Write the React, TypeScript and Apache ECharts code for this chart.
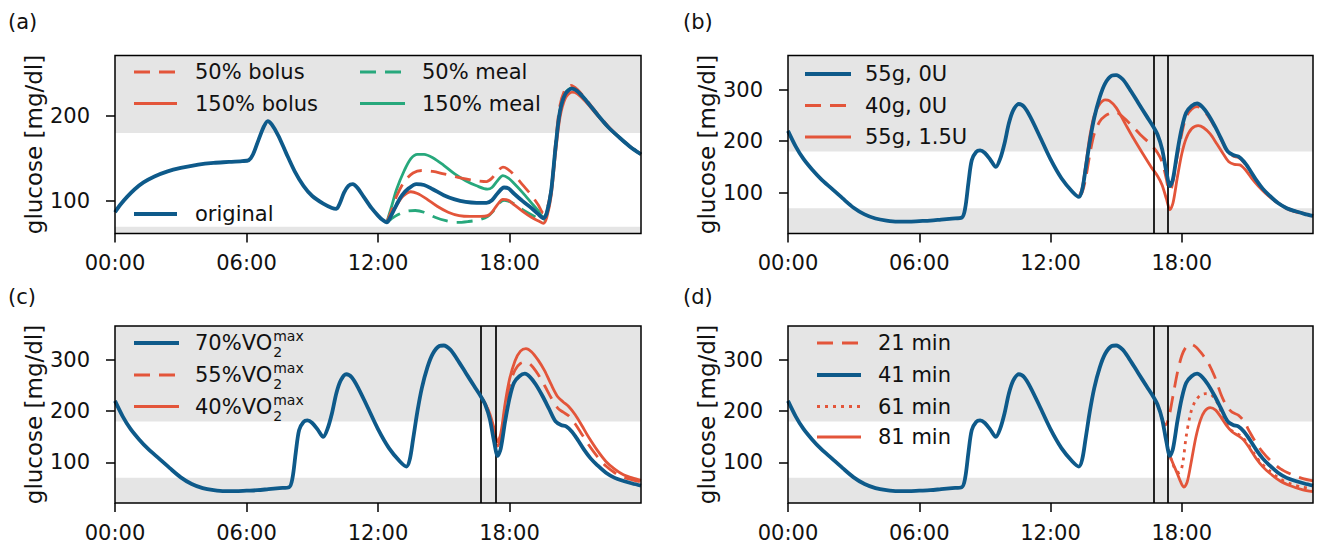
import React, { useEffect, useRef } from 'react';
import * as echarts from 'echarts';

const W = 1319;
const H = 550;
const FONT = 'DejaVu Sans';
const BLUE = '#0e5a8a';
const RED = '#e3553a';
const GREEN = '#27a87c';
const BAND = '#e5e5e5';
const TXT = '#111';

// ---------- axes / reference values ----------
const X_TICKS = [0, 6, 12, 18];
const Y_TICKS_A = [100, 200];
const Y_TICKS_BCD = [100, 200, 300];
const Y_RANGE_A = [62, 271];
const Y_RANGE_BCD = [21, 366];
const HYPO = 70;
const HYPER = 180;
const EXERCISE = [16.7, 17.38];
const PANEL_LABELS = ['(a)', '(b)', '(c)', '(d)'];

// ---------- panel (a) ----------
const aOriginal = [[0,87],[0.25,96],[0.55,105],[0.9,114],[1.3,122],[1.8,129],[2.4,135],[3.0,139],[3.8,143],[4.5,145],[5.2,146],[5.8,147],[6.1,148],[6.3,155],[6.55,172],[6.8,188],[6.97,194],[7.15,190],[7.45,177],[7.8,157],[8.2,135],[8.6,118],[9.0,106],[9.5,97],[9.9,92],[10.1,91],[10.25,97],[10.45,110],[10.65,118],[10.85,120],[11.05,116],[11.35,105],[11.7,92],[12.0,83],[12.2,78],[12.4,75],[12.6,83],[12.85,96],[13.1,107],[13.4,115],[13.75,120],[14.1,119],[14.5,114],[15.0,107],[15.5,102],[16.0,99],[16.5,98],[16.95,98],[17.2,101],[17.45,109],[17.75,116],[17.95,115],[18.2,109],[18.6,100],[19.0,92],[19.3,85],[19.55,80],[19.7,86],[19.9,112],[20.1,163],[20.3,205],[20.55,226],[20.85,232],[21.1,229],[21.5,218],[22.0,202],[22.5,187],[23.0,175],[23.5,164],[24.0,155]];
const a50Bolus = [[12.4,75],[12.6,88],[12.85,106],[13.2,123],[13.6,133],[14.0,136],[14.5,135],[15.0,132],[15.5,129],[16.0,126],[16.5,124],[16.95,123],[17.2,127],[17.45,135],[17.7,140],[17.9,138],[18.2,131],[18.6,119],[19.0,107],[19.3,96],[19.55,86],[19.7,90],[19.9,114],[20.1,168],[20.3,212],[20.55,232],[20.8,236],[21.1,231],[21.5,219],[22.0,203],[22.5,188],[23.0,175],[23.5,164],[24.0,155]];
const a150Bolus = [[12.4,75],[12.6,84],[12.85,95],[13.15,106],[13.5,111],[13.8,109],[14.2,103],[14.7,94],[15.2,87],[15.7,83],[16.2,82],[16.7,82],[17.0,83],[17.2,87],[17.45,96],[17.7,102],[17.95,101],[18.2,96],[18.6,88],[19.0,81],[19.3,77],[19.55,74],[19.7,81],[19.9,106],[20.1,156],[20.3,198],[20.55,221],[20.85,228],[21.1,226],[21.5,216],[22.0,201],[22.5,187],[23.0,175],[23.5,164],[24.0,155]];
const a50Meal = [[12.4,75],[12.6,79],[12.9,84],[13.3,88],[13.7,89],[14.1,87],[14.6,81],[15.1,77],[15.6,75],[16.1,76],[16.6,78],[17.0,82],[17.25,88],[17.5,97],[17.75,101],[17.95,100],[18.2,97],[18.6,90],[19.0,84],[19.3,80],[19.55,77],[19.7,84],[19.9,110],[20.1,162],[20.3,205],[20.55,226],[20.85,232],[21.1,229],[21.5,218],[22.0,202],[22.5,187],[23.0,175],[23.5,164],[24.0,155]];
const a150Meal = [[12.4,75],[12.6,92],[12.85,114],[13.2,136],[13.5,150],[13.8,155],[14.1,155],[14.5,151],[15.0,142],[15.5,132],[16.0,124],[16.5,118],[17.0,114],[17.2,116],[17.45,124],[17.7,130],[17.95,127],[18.2,121],[18.6,110],[19.0,98],[19.3,89],[19.55,81],[19.7,87],[19.9,113],[20.1,164],[20.3,206],[20.55,227],[20.85,233],[21.1,229],[21.5,218],[22.0,202],[22.5,187],[23.0,175],[23.5,164],[24.0,155]];

// ---------- shared baseline for (b), (c), (d) ----------
const baseline = [[0,220],[0.35,190],[0.7,166],[1.1,145],[1.5,127],[2.0,108],[2.5,89],[3.0,71],[3.5,58],[4.0,50],[4.5,46],[5.0,44],[5.5,44],[6.0,45],[6.5,46],[7.0,48],[7.5,50],[7.95,52],[8.1,70],[8.25,120],[8.4,163],[8.6,179],[8.78,182],[9.0,177],[9.25,164],[9.5,150],[9.7,166],[9.9,196],[10.1,235],[10.3,260],[10.55,272],[10.8,266],[11.1,245],[11.5,210],[12.0,165],[12.5,128],[13.0,102],[13.3,92],[13.45,106],[13.6,145],[13.8,200],[14.0,245],[14.25,285],[14.5,312],[14.8,327],[15.0,328],[15.3,320],[15.6,302],[16.0,275],[16.4,248],[16.7,228],[16.9,212],[17.1,185],[17.3,140],[17.46,113],[17.6,127],[17.8,180],[18.0,225],[18.2,255],[18.45,268],[18.7,273],[18.95,266],[19.2,252],[19.5,230],[19.8,205],[20.1,180],[20.35,173],[20.6,170],[20.85,160],[21.1,145],[21.4,125],[21.7,108],[22.0,95],[22.4,80],[22.8,70],[23.2,64],[23.6,59],[24.0,55]];

// ---------- panel (b) ----------
const b40g0U = [[13.3,92],[13.45,101],[13.6,126],[13.8,175],[14.0,214],[14.25,238],[14.5,249],[14.8,255],[15.0,256],[15.3,247],[15.7,231],[16.1,213],[16.5,197],[16.7,188],[16.9,177],[17.1,160],[17.3,126],[17.42,104],[17.55,112],[17.75,160],[18.0,214],[18.2,247],[18.45,262],[18.7,267],[18.95,262],[19.2,249],[19.5,228],[19.8,203],[20.1,178],[20.35,171],[20.6,168],[20.85,158],[21.1,143],[21.4,124],[21.7,107],[22.0,94],[22.4,79],[22.8,69],[23.2,63],[23.6,58],[24.0,55]];
const b55g15U = [[13.3,92],[13.45,109],[13.6,150],[13.8,210],[14.0,250],[14.25,272],[14.5,280],[14.7,278],[15.0,265],[15.4,235],[15.8,205],[16.2,177],[16.6,150],[16.9,132],[17.1,115],[17.3,88],[17.46,67],[17.6,80],[17.8,130],[18.0,175],[18.2,205],[18.45,224],[18.75,230],[19.0,226],[19.3,214],[19.6,195],[19.9,175],[20.15,160],[20.4,155],[20.65,154],[20.9,145],[21.2,128],[21.5,113],[21.85,98],[22.2,86],[22.6,75],[23.0,67],[23.4,62],[23.8,57],[24.0,55]];

// ---------- panel (c) ----------
const c55 = [[16.7,228],[16.9,213],[17.1,192],[17.3,160],[17.45,132],[17.6,146],[17.8,205],[18.0,250],[18.25,280],[18.5,293],[18.75,296],[19.0,289],[19.3,272],[19.6,250],[19.9,226],[20.2,206],[20.45,198],[20.7,191],[21.0,175],[21.3,155],[21.6,135],[22.0,112],[22.4,93],[22.8,80],[23.2,71],[23.6,66],[24.0,62]];
const c40 = [[16.7,228],[16.9,214],[17.1,195],[17.3,166],[17.45,140],[17.6,156],[17.8,215],[18.0,262],[18.25,298],[18.5,317],[18.75,322],[19.0,316],[19.3,300],[19.6,279],[19.9,252],[20.2,228],[20.45,218],[20.7,209],[21.0,193],[21.3,172],[21.6,150],[22.0,124],[22.4,102],[22.8,87],[23.2,76],[23.6,70],[24.0,65]];

// ---------- panel (d) ----------
const d21 = [[17.05,192],[17.15,179],[17.25,173],[17.4,186],[17.6,230],[17.8,275],[18.0,308],[18.2,325],[18.42,330],[18.65,325],[18.9,313],[19.2,295],[19.5,268],[19.8,232],[20.05,210],[20.3,198],[20.6,192],[20.85,180],[21.1,160],[21.4,138],[21.7,120],[22.0,106],[22.5,88],[23.0,77],[23.5,69],[24.0,64]];
const d61 = [[17.38,125],[17.46,113],[17.6,96],[17.75,83],[17.9,80],[18.05,100],[18.2,150],[18.4,195],[18.6,218],[18.85,231],[19.1,234],[19.35,232],[19.6,218],[19.9,190],[20.2,165],[20.5,157],[20.75,150],[21.0,137],[21.3,118],[21.6,100],[22.0,84],[22.5,68],[23.0,58],[23.5,52],[24.0,49]];
const d81 = [[17.38,125],[17.46,113],[17.6,98],[17.8,78],[17.95,62],[18.1,52],[18.25,62],[18.45,105],[18.65,150],[18.85,182],[19.05,200],[19.3,207],[19.55,202],[19.8,188],[20.05,172],[20.3,160],[20.55,153],[20.8,145],[21.1,128],[21.4,108],[21.7,92],[22.0,80],[22.5,64],[23.0,54],[23.5,47],[24.0,43]];

// ---------- legends ----------
const LEG_A = ['50% bolus', '150% bolus', '50% meal', '150% meal', 'original'];
const LEG_B = ['55g, 0U', '40g, 0U', '55g, 1.5U'];
const LEG_C = ['70%', '55%', '40%'];
const LEG_D = ['21 min', '41 min', '61 min', '81 min'];

// ---------- layout ----------
const GRIDS = [
  { left: 115, top: 55.5, width: 526, height: 178 },
  { left: 788, top: 55.5, width: 525, height: 178 },
  { left: 115, top: 326, width: 526, height: 177 },
  { left: 788, top: 326, width: 525, height: 177 },
];
const LW_BLUE = 3.8;
const LW_OTHER = 2.8;
const DASH = [16, 9];
const DOT = [3, 5];

function measure(text: string, size: number) {
  const c = document.createElement('canvas').getContext('2d');
  if (!c) return text.length * size * 0.6;
  c.font = `${size}px "${FONT}"`;
  return c.measureText(text).width;
}

function series(data: number[][], gi: number, color: string, width: number, type: any, z: number) {
  return {
    type: 'line', xAxisIndex: gi, yAxisIndex: gi, data,
    showSymbol: false, symbol: 'none', smooth: 0.3, silent: true, z,
    lineStyle: { color, width, type, cap: 'butt', join: 'round' },
  };
}

export default function App() {
  const ref = useRef<HTMLDivElement>(null);
  useEffect(() => {
    document.body.style.margin = '0';
    if (!ref.current) return;
    const chart = echarts.init(ref.current, undefined, { renderer: 'svg' });

    const xAxis = GRIDS.map((_, i) => ({
      type: 'value', gridIndex: i, min: 0, max: 24,
      axisLine: { show: false }, splitLine: { show: false },
      axisTick: { show: true, length: 9, lineStyle: { color: '#000', width: 1.5 }, customValues: X_TICKS },
      axisLabel: {
        customValues: X_TICKS, margin: 19, color: TXT, fontFamily: FONT, fontSize: 21,
        formatter: (v: number) => `${String(v).padStart(2, '0')}:00`,
      },
    }));
    const yAxis = GRIDS.map((_, i) => {
      const r = i === 0 ? Y_RANGE_A : Y_RANGE_BCD;
      const t = i === 0 ? Y_TICKS_A : Y_TICKS_BCD;
      return {
        type: 'value', gridIndex: i, min: r[0], max: r[1],
        name: 'glucose [mg/dl]', nameLocation: 'middle', nameGap: 70, nameRotate: 90,
        nameTextStyle: { fontFamily: FONT, fontSize: 23, color: TXT },
        axisLine: { show: false }, splitLine: { show: false },
        axisTick: { show: true, length: 9, lineStyle: { color: '#000', width: 1.5 }, customValues: t },
        axisLabel: { customValues: t, margin: 25, color: TXT, fontFamily: FONT, fontSize: 21 },
      };
    });

    const bands = GRIDS.map((_, i) => {
      const r = i === 0 ? Y_RANGE_A : Y_RANGE_BCD;
      return {
        type: 'line', xAxisIndex: i, yAxisIndex: i, data: [], z: 1, silent: true,
        markArea: {
          silent: true, itemStyle: { color: BAND, opacity: 1 },
          data: [[{ yAxis: HYPER }, { yAxis: r[1] }], [{ yAxis: r[0] }, { yAxis: HYPO }]],
        },
      };
    });
    const vlines = [1, 2, 3].map((i) => ({
      type: 'line', xAxisIndex: i, yAxisIndex: i, data: [], z: 20, silent: true,
      markLine: {
        silent: true, symbol: ['none', 'none'], label: { show: false },
        lineStyle: { color: '#000', width: 1.7, type: 'solid' },
        emphasis: { disabled: true },
        data: EXERCISE.map((x) => ({ xAxis: x })),
      },
    }));

    const lines = [
      series(a50Meal, 0, GREEN, LW_OTHER, DASH, 3),
      series(a150Meal, 0, GREEN, LW_OTHER, 'solid', 3),
      series(a50Bolus, 0, RED, LW_OTHER, DASH, 4),
      series(a150Bolus, 0, RED, LW_OTHER, 'solid', 4),
      series(aOriginal, 0, BLUE, LW_BLUE, 'solid', 6),
      series(b40g0U, 1, RED, LW_OTHER, DASH, 4),
      series(b55g15U, 1, RED, LW_OTHER, 'solid', 4),
      series(baseline, 1, BLUE, LW_BLUE, 'solid', 6),
      series(c55, 2, RED, LW_OTHER, DASH, 4),
      series(c40, 2, RED, LW_OTHER, 'solid', 4),
      series(baseline, 2, BLUE, LW_BLUE, 'solid', 6),
      series(d21, 3, RED, LW_OTHER, DASH, 4),
      series(d61, 3, RED, LW_OTHER, DOT, 4),
      series(d81, 3, RED, LW_OTHER, 'solid', 4),
      series(baseline, 3, BLUE, LW_BLUE, 'solid', 6),
    ];

    const g: any[] = [];
    const font = (s: number) => `${s}px "${FONT}"`;
    const txt = (x: number, y: number, text: string, size = 21) => ({
      type: 'text', x, y, z: 100, silent: true,
      style: { text, font: font(size), fill: TXT, textAlign: 'left', align: 'left', textVerticalAlign: 'middle', verticalAlign: 'middle' },
    });
    const handle = (x1: number, x2: number, y: number, color: string, w: number, dash?: number[]) => ({
      type: 'line', z: 100, silent: true,
      shape: { x1, y1: y, x2, y2: y },
      style: { stroke: color, lineWidth: w, lineDash: dash || null, lineCap: 'butt' },
    });
    // frames
    GRIDS.forEach((gr) => g.push({
      type: 'rect', z: 90, silent: true,
      shape: { x: gr.left, y: gr.top, width: gr.width, height: gr.height },
      style: { fill: 'none', stroke: '#000', lineWidth: 1.5 },
    }));
    // panel labels
    g.push(txt(8, 22, PANEL_LABELS[0]));
    g.push(txt(683, 22, PANEL_LABELS[1]));
    g.push(txt(8, 297, PANEL_LABELS[2]));
    g.push(txt(683, 297, PANEL_LABELS[3]));
    // legend (a)
    g.push(handle(134, 177, 72, RED, LW_OTHER, DASH), txt(195, 72, LEG_A[0]));
    g.push(handle(134, 177, 103.5, RED, LW_OTHER), txt(195, 103.5, LEG_A[1]));
    g.push(handle(360, 405, 72, GREEN, LW_OTHER, DASH), txt(422, 72, LEG_A[2]));
    g.push(handle(360, 405, 103.5, GREEN, LW_OTHER), txt(422, 103.5, LEG_A[3]));
    g.push(handle(134, 177, 214, BLUE, LW_BLUE), txt(195, 214, LEG_A[4]));
    // legend (b)
    g.push(handle(805, 851, 74, BLUE, LW_BLUE), txt(865, 74, LEG_B[0]));
    g.push(handle(805, 851, 105.5, RED, LW_OTHER, DASH), txt(865, 105.5, LEG_B[1]));
    g.push(handle(805, 851, 137, RED, LW_OTHER), txt(865, 137, LEG_B[2]));
    // legend (c) with stacked sub/superscripts
    const cRows = [343, 375, 406.5];
    const cStyles: [string, number, number[] | undefined][] = [[BLUE, LW_BLUE, undefined], [RED, LW_OTHER, DASH], [RED, LW_OTHER, undefined]];
    LEG_C.forEach((p, k) => {
      const y = cRows[k];
      const main = `${p}VO`;
      g.push(handle(134, 179, y, cStyles[k][0], cStyles[k][1], cStyles[k][2]));
      g.push(txt(195, y, main));
      const wx = 195 + measure(main, 21) + 1;
      g.push(txt(wx, y + 9, '2', 14));
      g.push(txt(wx, y - 7, 'max', 14));
    });
    // legend (d)
    const dRows = [343, 375, 406.5, 437];
    const dStyles: [string, number, number[] | undefined][] = [[RED, LW_OTHER, DASH], [BLUE, LW_BLUE, undefined], [RED, LW_OTHER, DOT], [RED, LW_OTHER, undefined]];
    LEG_D.forEach((lab, k) => {
      g.push(handle(817, 861, dRows[k], dStyles[k][0], dStyles[k][1], dStyles[k][2]));
      g.push(txt(878, dRows[k], lab));
    });

    chart.setOption({
      animation: false,
      backgroundColor: '#fff',
      textStyle: { fontFamily: FONT },
      grid: GRIDS.map((gr) => ({ ...gr, containLabel: false, outerBoundsMode: 'none', show: false })),
      xAxis, yAxis,
      series: [...bands, ...lines, ...vlines],
      graphic: g,
    } as any);
    return () => chart.dispose();
  }, []);
  return <div ref={ref} style={{ width: W, height: H }} />;
}
